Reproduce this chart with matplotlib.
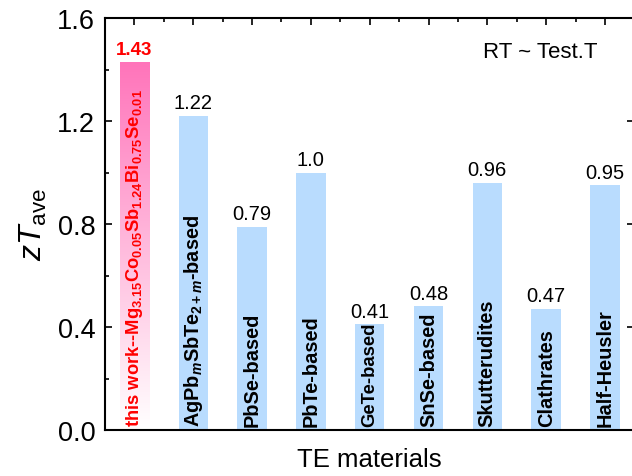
import numpy as np
import matplotlib
matplotlib.use('Agg')
import matplotlib.pyplot as plt
from matplotlib.patches import Rectangle
from matplotlib.ticker import MultipleLocator, FormatStrFormatter

plt.rcParams['font.family'] = ['Liberation Sans', 'DejaVu Sans']
plt.rcParams['mathtext.fontset'] = 'custom'
plt.rcParams['mathtext.rm'] = 'Liberation Sans'
plt.rcParams['mathtext.it'] = 'Liberation Sans:italic'
plt.rcParams['mathtext.bf'] = 'Liberation Sans:bold'
plt.rcParams['mathtext.bfit'] = 'Liberation Sans:italic:bold'

# ── data ──────────────────────────────────────────────────────────────────────
materials = [
    r'this work--Mg$_{\mathbf{3.15}}$Co$_{\mathbf{0.05}}$Sb$_{\mathbf{1.24}}$Bi$_{\mathbf{0.75}}$Se$_{\mathbf{0.01}}$',
    r'AgPb$_{\mathbfit{m}}$SbTe$_{\mathbf{2+}\mathbfit{m}}$-based',
    'PbSe-based', 'PbTe-based', 'GeTe-based', 'SnSe-based',
    'Skutterudites', 'Clathrates', 'Half-Heusler',
]
zt_ave = [1.43, 1.22, 0.79, 1.00, 0.41, 0.48, 0.96, 0.47, 0.95]
value_labels = ['1.43', '1.22', '0.79', '1.0', '0.41', '0.48', '0.96', '0.47', '0.95']
name_sizes = [13.2, 14.3, 14.4, 14.4, 13.3, 14.4, 14.4, 14.4, 14.4]

# ── palette ──────────────────────────────────────────────────────────────────
BAR_C = '#b9dcfe'
PINK = '#ff74ba'
RED = '#ff0000'

fig = plt.figure(figsize=(6.32, 4.77), dpi=100)
ax = fig.add_axes([0.1661, 0.0964, 0.8377, 0.8636])

x = np.arange(1, len(zt_ave) + 1)
w = 0.5
ax.bar(x[1:], zt_ave[1:], width=w, color=BAR_C, zorder=2)

# gradient bar for this work (white at bottom -> pink at top)
grad = np.linspace(0, 1, 256).reshape(-1, 1)
cmap = matplotlib.colors.LinearSegmentedColormap.from_list('pw', ['#ffffff', PINK])
im = ax.imshow(grad, extent=(x[0] - w / 2, x[0] + w / 2, 0, zt_ave[0]),
               origin='lower', cmap=cmap, aspect='auto', zorder=2)
clip = Rectangle((x[0] - w / 2, 0), w, zt_ave[0], transform=ax.transData)
im.set_clip_path(clip)

for i, (xi, v, lab) in enumerate(zip(x, zt_ave, value_labels)):
    if i == 0:
        ax.text(xi, v + 0.015, lab, ha='center', va='bottom', color=RED,
                fontsize=13.5, fontweight='bold', zorder=5)
    else:
        ax.text(xi, v + 0.014, lab, ha='center', va='bottom', color='black',
                fontsize=14.5, zorder=5)

for i, (xi, name, fs) in enumerate(zip(x, materials, name_sizes)):
    ax.text(xi, 0.015, name, rotation=90, ha='center', va='bottom',
            color=RED if i == 0 else 'black', fontsize=fs, fontweight='bold', zorder=5)

ax.text(0.822, 0.92, 'RT ~ Test.T', transform=ax.transAxes, ha='center', va='center',
        fontsize=16)

ax.set_xlim(0.5, 9.5)
ax.set_ylim(0, 1.6)
ax.yaxis.set_major_locator(MultipleLocator(0.4))
ax.yaxis.set_minor_locator(MultipleLocator(0.2))
ax.yaxis.set_major_formatter(FormatStrFormatter('%.1f'))
ax.set_xticks(x)
ax.xaxis.set_minor_locator(MultipleLocator(0.5))
ax.tick_params(axis='y', which='both', direction='in', labelsize=19.5,
               width=1.2, pad=7)
ax.tick_params(axis='y', which='major', length=5, right=True)
ax.tick_params(axis='y', which='minor', length=3, right=False)
ax.tick_params(axis='x', which='both', direction='in', bottom=False, top=True,
               labelbottom=False, width=1.2)
ax.tick_params(axis='x', which='major', length=5)
ax.tick_params(axis='x', which='minor', length=3)

for s in ax.spines.values():
    s.set_linewidth(1.5)
    s.set_zorder(6)

ax.set_xlabel('TE materials', fontsize=18.5, labelpad=12)
ax.set_ylabel(r'$\mathit{zT}_{\mathrm{ave}}$', fontsize=23, labelpad=6)

fig.savefig('out.png', dpi=100)
